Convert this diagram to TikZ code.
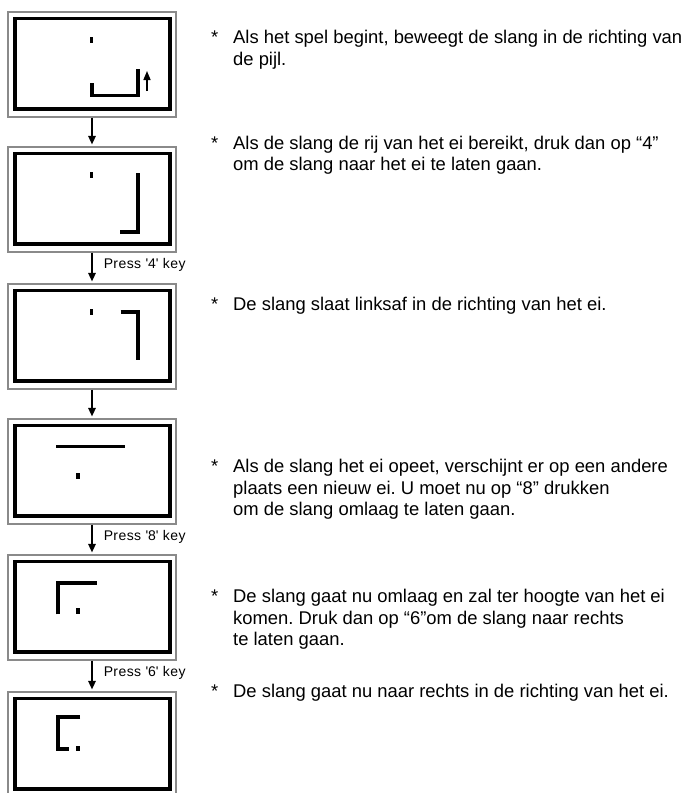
\documentclass[tikz,border=0pt]{standalone}
\usepackage{fontspec}
\setmainfont{Liberation Sans}
\newfontfamily\keyfont{Liberation Sans}[LetterSpace=3]
\usetikzlibrary{arrows.meta,positioning}
\definecolor{bezel}{HTML}{8A8A8A}
\frenchspacing

\begin{document}
\begin{tikzpicture}[x=1bp, y=-1bp,
  screen/.style={draw=bezel, line width=1.2bp, fill=white, minimum width=168bp,
                 minimum height=105bp, inner sep=0pt,
                 path picture={\draw[draw=black, line width=3.3bp]
                   ([shift={(7,6.8)}]path picture bounding box.north west) rectangle
                   ([shift={(-6,-8)}]path picture bounding box.south east);}},
  slang/.style={line width=3.6bp, line join=miter},
  ei/.style={fill=black},
  flow/.style={line width=1.5bp, -{Triangle[length=8.5bp,width=7.5bp]}, shorten >=2bp},
  keylabel/.style={right, inner sep=0pt, xshift=11bp,
                   font=\keyfont\fontsize{14bp}{16bp}\selectfont},
  note/.style={anchor=base west, inner sep=0pt,
               font=\fontsize{18.4bp}{21.7bp}\selectfont},
  asterisk/.style={inner sep=0pt, font=\fontsize{18.4bp}{21.7bp}\selectfont}]
\useasboundingbox (0,0) rectangle (683,793);

% the six screens
\node[screen] (s1) at (92,64.5) {};
\node[screen] (s2) at (92,199.5) {};
\node[screen] (s3) at (92,336.5) {};
\node[screen] (s4) at (92,471.5) {};
\node[screen] (s5) at (92,607.5) {};
\node[screen] (s6) at (92,744.5) {};

% snake and egg in each screen
\fill[ei] (90,36.7) rectangle (92.8,42.7);
\draw[slang] (92,83.3) -- (92,95.3) -- (137.7,95.3) -- (137.7,69.3);
\draw[line width=1.5bp, -{Triangle[length=9bp,width=7bp]}] (147,91) -- (147,71);

\fill[ei] (90,171.7) rectangle (92.8,177.7);
\draw[slang] (120,231.7) -- (137.7,231.7) -- (137.7,173.3);

\fill[ei] (90,309) rectangle (92.8,314.5);
\draw[slang] (120.7,311.7) -- (137.7,311.7) -- (137.7,360);

\draw[slang] (56,446.3) -- (125,446.3);
\fill[ei] (76,473.3) rectangle (80,479);

\draw[slang] (58,614.3) -- (58,582.7) -- (96.7,582.7);
\fill[ei] (76,608.3) rectangle (80,614.3);

\draw[slang] (80,716.7) -- (58,716.7) -- (58,749) -- (69.3,749);
\fill[ei] (76,746) rectangle (80,750.7);

% steps
\draw[flow] (s1) -- (s2);
\draw[flow] (s2) -- node[keylabel, pos=0.4] {Press \textquotesingle4\textquotesingle{} key} (s3);
\draw[flow] (s3) -- (s4);
\draw[flow] (s4) -- node[keylabel, pos=0.4] {Press \textquotesingle8\textquotesingle{} key} (s5);
\draw[flow] (s5) -- node[keylabel, pos=0.4] {Press \textquotesingle6\textquotesingle{} key} (s6);

% notes
\node[note] (n1) at (233,43.5) {\begin{tabular}[t]{@{}l@{}}Als het spel begint, beweegt de slang in de richting van\\de pijl.\end{tabular}};
\node[note] (n2) at (233,149) {\begin{tabular}[t]{@{}l@{}}Als de slang de rij van het ei bereikt, druk dan op “4”\\om de slang naar het ei te laten gaan.\end{tabular}};
\node[note] (n3) at (233,310.5) {De slang slaat linksaf in de richting van het ei.};
\node[note] (n4) at (233,472.5) {\begin{tabular}[t]{@{}l@{}}Als de slang het ei opeet, verschijnt er op een andere\\plaats een nieuw ei. U moet nu op “8” drukken\\om de slang omlaag te laten gaan.\end{tabular}};
\node[note] (n5) at (233,602.5) {\begin{tabular}[t]{@{}l@{}}De slang gaat nu omlaag en zal ter hoogte van het ei\\komen. Druk dan op “6”om de slang naar rechts\\te laten gaan.\end{tabular}};
\node[note] (n6) at (233,697.5) {De slang gaat nu naar rechts in de richting van het ei.};
\node[asterisk, left=14.5bp of n1.base west, anchor=base east] (a1) {*};
\node[asterisk, left=14.5bp of n2.base west, anchor=base east] (a2) {*};
\node[asterisk, left=14.5bp of n3.base west, anchor=base east] (a3) {*};
\node[asterisk, left=14.5bp of n4.base west, anchor=base east] (a4) {*};
\node[asterisk, left=14.5bp of n5.base west, anchor=base east] (a5) {*};
\node[asterisk, left=14.5bp of n6.base west, anchor=base east] (a6) {*};
\end{tikzpicture}
\end{document}
